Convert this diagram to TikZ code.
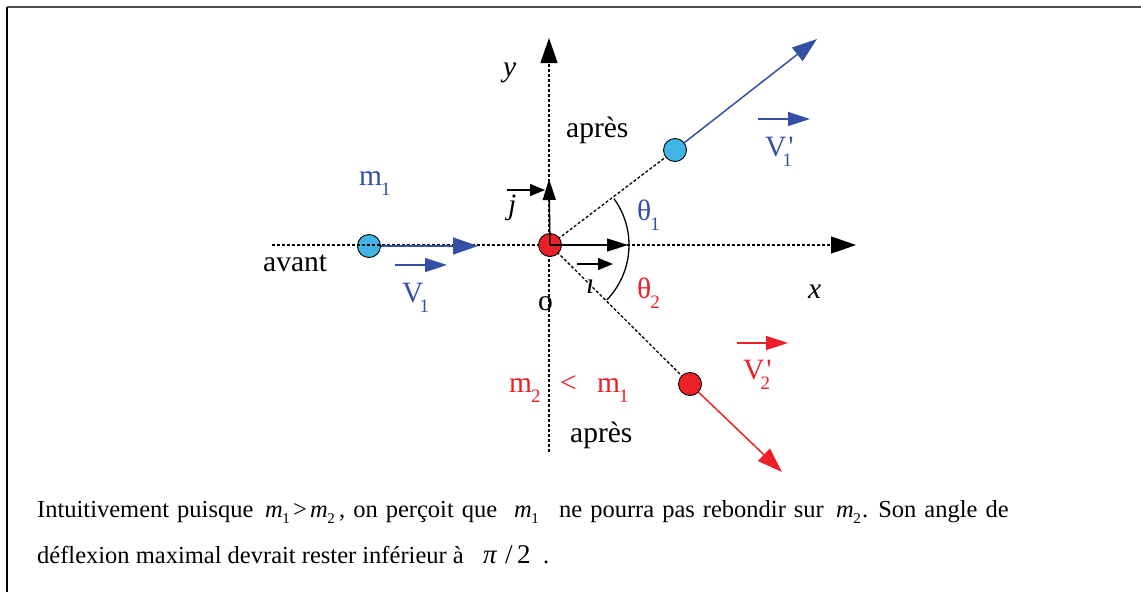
\documentclass[tikz,border=0pt]{standalone}
\usepackage{fontspec}
\setmainfont{Liberation Serif}
\usetikzlibrary{arrows.meta}
\definecolor{vblue}{RGB}{52,80,164}
\definecolor{lblue}{RGB}{64,180,228}
\definecolor{vred}{RGB}{236,32,40}
\newcommand\dfont{\fontsize{29.5}{32}\selectfont}
\newcommand\sfnt{\fontsize{19}{21}\selectfont}
\newcommand\subx[1]{\kern-1pt\raisebox{-0.34em}{\sfnt #1}}
\newcommand\vsub[1]{\kern-4pt\raisebox{-0.34em}{\sfnt #1}}
\newcommand\vpsub[1]{\kern-4pt\rlap{\kern6pt\textquotesingle}\raisebox{-0.34em}{\sfnt #1}}
\newcommand\cfont{\fontsize{24.5}{28}\selectfont}
\newcommand\wfont{\fontsize{24.5}{28}\selectfont\spaceskip=8pt plus 1pt}
\newcommand\mi[1]{\textit{m}\kern-0.5pt\raisebox{-0.26em}{\fontsize{15}{16}\selectfont #1}}
\begin{document}
\begin{tikzpicture}[x=1pt,y=-1pt,
  lbl/.style={inner sep=0pt, font=\dfont, anchor=base west},
  captext/.style={inner sep=0pt, font=\cfont, anchor=base west},
  widetext/.style={inner sep=0pt, font=\wfont, anchor=base west},
  ball/.style={circle, draw=black, line width=0.9pt, minimum size=23pt, inner sep=0pt},
  dotline/.style={dash pattern=on 3pt off 2pt, line width=1.3pt},
  axtip/.style={-{Triangle[length=25pt,width=17pt]}},
  unitvec/.style={line width=1.4pt, -{Triangle[length=21pt,width=13pt]}},
  labvec/.style={line width=1.3pt, -{Triangle[length=22pt,width=14pt]}},
  bigvec/.style={line width=1.5pt, -{Triangle[length=25pt,width=17pt]}}]
\useasboundingbox (0,0) rectangle (1141,592);
% frame
\draw[line width=1.5pt, black!70] (7,7) -- (1141,7);
\draw[line width=1.5pt] (7,7) -- (7,592);
% key points
\coordinate (O) at (550,245);
\coordinate (xs) at (272,245);
\coordinate (xe) at (856,245);
\coordinate (ys) at (549,452);
\coordinate (ye) at (549,38);
\coordinate (itip) at (628,245);
\coordinate (jtip) at (549,179);
\coordinate (v1tip) at (478,246);
\coordinate (v1ptip) at (817,39);
\coordinate (v2ptip) at (782,472);
% balls
\node[ball, fill=lblue] (b1) at (369,246) {};
\node[ball, fill=lblue] (b1p) at (675,150) {};
\node[ball, fill=vred] (b2p) at (690,384) {};
% axes and dotted lines
\draw[dotline, axtip] (xs) -- (xe);
\draw[dotline, axtip] (ys) -- (ye);
\draw[dotline] (O) -- (b1p);
\draw[dotline] (O) -- (b2p);
\node[ball, fill=vred] (b2) at (O) {};
% unit vectors
\draw[unitvec] (b2.center) -- (itip);
\draw[unitvec] (b2.center) -- (jtip);
% velocities
\draw[bigvec, vblue] (b1.east) -- (v1tip);
\draw[bigvec, vblue] (b1p) -- (v1ptip);
\draw[bigvec, vred] (b2p) -- (v2ptip);
% angle arc
\draw[line width=1.3pt] (O) ++(-44:79pt) arc[start angle=-44, end angle=36, radius=79pt];
% labels
\node[lbl, vblue] (lm1) at (359,185) {m\subx{1}};
\node[lbl, vblue] (lv1) at (402,302) {V\vsub{1}};
\coordinate (a1s) at (395,265); \coordinate (a1e) at (447,265);
\draw[labvec, vblue] (a1s) -- (a1e);
\node[lbl, vblue] (lv1p) at (765,156) {V\vpsub{1}};
\coordinate (a2s) at (758,119); \coordinate (a2e) at (810,119);
\draw[labvec, vblue] (a2s) -- (a2e);
\node[lbl, vred] (lv2p) at (743,379) {V\vpsub{2}};
\coordinate (a3s) at (737,343); \coordinate (a3e) at (788,343);
\draw[labvec, vred] (a3s) -- (a3e);
\node[lbl, vblue] (lt1) at (637,220) {θ\subx{1}};
\node[lbl, vred] (lt2) at (637,298) {θ\subx{2}};
\node[lbl] (lx) at (808,298) {\textit{x}};
\node[lbl] (ly) at (503,76) {\textit{y}};
\node[lbl] (lo) at (538,310) {o};
\node[lbl] (lj) at (508,214) {\textit{j}};
\coordinate (a4s) at (507,190); \coordinate (a4e) at (545,190);
\draw[line width=1.3pt, -{Triangle[length=15pt,width=12pt]}] (a4s) -- (a4e);
\node[lbl] (li) at (586,293) {\textit{ı}};
\coordinate (a5s) at (577,264); \coordinate (a5e) at (613,264);
\draw[line width=1.3pt, -{Triangle[length=15pt,width=12pt]}] (a5s) -- (a5e);
\node[lbl] (lap1) at (566,137) {après};
\node[lbl] (lap2) at (570,442) {après};
\node[lbl] (lav) at (263,271) {avant};
\node[lbl, vred] (lm2) at (509,392) {m\subx{2}};
\node[lbl, vred] (llt) at (560,392) {<};
\node[lbl, vred] (lm1b) at (597,392) {m\subx{1}};
% caption, line 1 (justified, wider word spaces)
\node[widetext] (c1a) at (37,517) {Intuitivement puisque};
\node[captext] (c1b) at (265,517) {\mi{1}};
\node[captext] (c1c) at (293,517) {>};
\node[captext] (c1d) at (310,517) {\mi{2}};
\node[widetext] (c1e) at (339,517) {, on perçoit que};
\node[captext] (c1f) at (514,517) {\mi{1}};
\node[widetext] (c1g) at (559,517) {ne pourra pas rebondir sur};
\node[captext] (c1h) at (836,517) {\mi{2}};
\node[widetext] (c1i) at (862,517) {. Son angle de};
% caption, line 2
\node[captext] (c2a) at (37,563) {déflexion maximal devrait rester inférieur à};
\node[captext, font=\fontsize{27}{30}\selectfont] (c2b) at (483,563) {\textit{π}};
\node[captext, font=\fontsize{27}{30}\selectfont] (c2c) at (505,563) {/};
\node[captext, font=\fontsize{27}{30}\selectfont] (c2d) at (517,563) {2};
\node[captext] (c2e) at (543,563) {.};
\end{tikzpicture}
\end{document}
